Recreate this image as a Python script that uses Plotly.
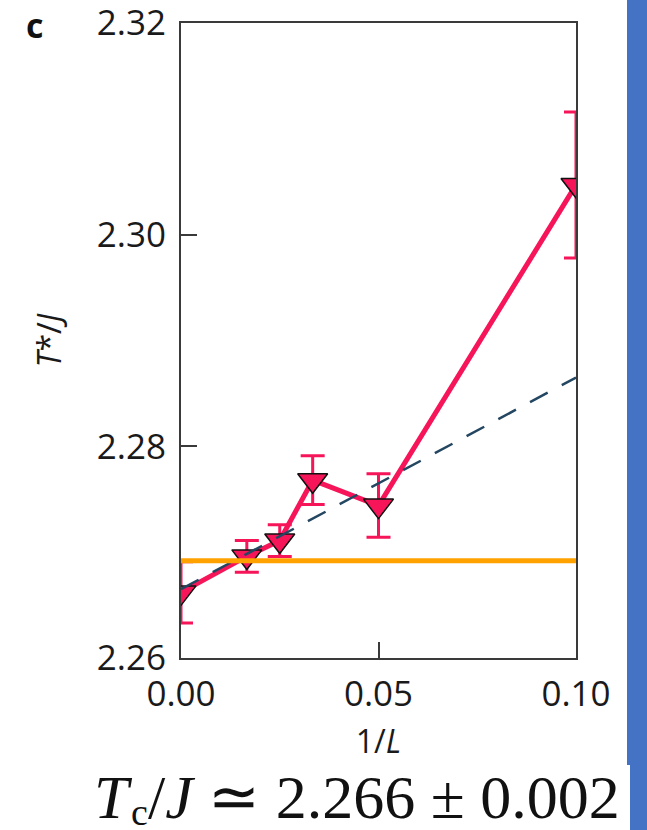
import plotly.graph_objects as go

# Finite-size estimates of the transition temperature T*/J versus inverse system size 1/L
inv_L = [0.0, 1/60, 1/40, 1/30, 1/20, 1/10]
t_star = [2.2662, 2.2696, 2.2711, 2.2768, 2.2744, 2.3047]
t_err = [0.0029, 0.0015, 0.0015, 0.0023, 0.0030, 0.0069]

# Linear extrapolation (dashed) and the exact 2D Ising value (horizontal line)
fit_x = [0.0, 0.1]
fit_y = [2.2665, 2.2865]
onsager_x = [0.0, 0.1]
onsager_y = [2.2692, 2.2692]

x_ticks = [0.0, 0.05, 0.10]
x_tick_text = ["0.00", "0.05", "0.10"]
y_ticks = [2.26, 2.28, 2.30, 2.32]
y_tick_text = ["2.26", "2.28", "2.30", "2.32"]

W, H = 647, 830
L_M, R_M, T_M, B_M = 181, 71, 23, 172
PW, PH = W - L_M - R_M, H - T_M - B_M


def px(xp):
    return (xp - L_M) / PW


def py(yp):
    return (H - B_M - yp) / PH


PINK = "#F7155A"
TICK_FONT = dict(family="Open Sans", size=35, color="#1a1a1a")
SERIF = dict(family="Liberation Serif", size=62, color="#111111")

fig = go.Figure()

fig.add_trace(go.Scatter(
    x=inv_L, y=t_star, mode="lines+markers",
    line=dict(color=PINK, width=5),
    marker=dict(symbol="triangle-down", size=26, color=PINK,
                line=dict(color="#111111", width=1.5)),
    error_y=dict(type="data", array=t_err, visible=True,
                 color=PINK, thickness=3, width=12),
    showlegend=False,
))

fig.add_trace(go.Scatter(
    x=fit_x, y=fit_y, mode="lines",
    line=dict(color="#234661", width=2.5, dash="20px,16px"),
    showlegend=False,
))

fig.add_trace(go.Scatter(
    x=onsager_x, y=onsager_y, mode="lines",
    line=dict(color="#FFA200", width=5),
    showlegend=False,
))

axis_common = dict(
    showline=True, linecolor="#3a3a3a", linewidth=2, mirror=True,
    ticks="inside", ticklen=16, tickwidth=2, tickcolor="#3a3a3a",
    showgrid=False, zeroline=False, tickfont=TICK_FONT,
    ticklabeloverflow="allow", automargin=False,
)

fig.update_xaxes(
    range=[-1e-9, 0.1 + 1e-9], tickvals=x_ticks, ticktext=x_tick_text,
    title=dict(text="1/<i>L</i>", font=dict(family="Open Sans", size=32, color="#1a1a1a"),
               standoff=16),
    ticklabelstandoff=4,
    **axis_common,
)
fig.update_yaxes(
    range=[2.26 - 1e-9, 2.32 + 1e-9], tickvals=y_ticks, ticktext=y_tick_text,
    title=dict(text="<i>T</i>*/<i>J</i>", font=dict(family="Open Sans", size=32, color="#1a1a1a"),
               standoff=26),
    ticklabelstandoff=6,
    **axis_common,
)

# Blue side strip
fig.add_shape(type="rect", xref="paper", yref="paper",
              x0=px(627), x1=px(W + 5), y0=py(765), y1=py(-5),
              fillcolor="#4472C4", line=dict(width=0), layer="below")
fig.add_shape(type="rect", xref="paper", yref="paper",
              x0=px(630), x1=px(W + 5), y0=py(H + 5), y1=py(765),
              fillcolor="#4472C4", line=dict(width=0), layer="below")

# Panel letter
fig.add_annotation(text="<b>c</b>", xref="paper", yref="paper",
                   x=px(34), y=py(25), xanchor="center", yanchor="middle",
                   showarrow=False, font=dict(family="Open Sans", size=34, color="#111111"))

# Extrapolated critical temperature: T, subscript c, then the rest of the expression
fig.add_annotation(text="<i>T</i>", xref="paper", yref="paper",
                   x=px(93), y=py(797), xanchor="left", yanchor="middle",
                   showarrow=False, font=SERIF, borderpad=0)
fig.add_annotation(text="c", xref="paper", yref="paper",
                   x=px(130), y=py(812), xanchor="left", yanchor="middle",
                   showarrow=False, borderpad=0,
                   font=dict(family="Liberation Serif", size=38, color="#111111"))
fig.add_annotation(text="/<i>J</i> \u2243 2.266 \u00b1 0.002", xref="paper", yref="paper",
                   x=px(147), y=py(797), xanchor="left", yanchor="middle",
                   showarrow=False, font=SERIF, borderpad=0)

fig.update_layout(
    width=W, height=H,
    margin=dict(l=L_M, r=R_M, t=T_M, b=B_M),
    paper_bgcolor="white", plot_bgcolor="white",
)

fig.write_html("out.html")
